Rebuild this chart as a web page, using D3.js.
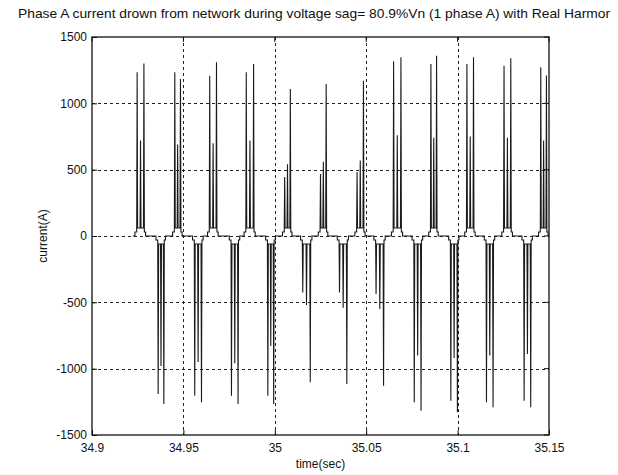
<!DOCTYPE html>
<html>
<head>
<meta charset="utf-8">
<script src="https://cdn.jsdelivr.net/npm/d3@7"></script>
<style>
  body { margin: 0; background: #fff; }
  text { font-family: "Liberation Sans", Arial, Helvetica, sans-serif; fill: #111; }
</style>
</head>
<body>
<svg id="chart" width="618" height="475"></svg>
<script>
// ---- axis data ----
const xTicks = [34.9, 34.95, 35, 35.05, 35.1, 35.15];
const xTickLabels = ["34.9", "34.95", "35", "35.05", "35.1", "35.15"];
const yTicks = [-1500, -1000, -500, 0, 500, 1000, 1500];
const yTickLabels = ["-1500", "-1000", "-500", "0", "500", "1000", "1500"];

// ---- phase A current: one double-spike pulse per half cycle ----
// positive half cycles: time of each spike (s), spike peaks and the smaller hump between them (A)
const posSpike1Time = [34.9247, 34.9453, 34.9644, 34.9844, 35.0054, 35.0250, 35.0450, 35.0650, 35.0854, 35.1051, 35.1254, 35.1455];
const posSpike2Time = [34.9284, 34.9484, 34.9681, 34.9884, 35.0085, 35.0281, 35.0485, 35.0690, 35.0885, 35.1087, 35.1291, 35.1486];
const posPeak1 = [1234, 1234, 1208, 1234, 445, 467, 482, 1317, 1297, 1297, 1284, 1272];
const posPeak2 = [1300, 1183, 1309, 1297, 1108, 1146, 1171, 1347, 1359, 1347, 1340, 1209];
const posMidHump = [720, 690, 700, 720, 540, 560, 570, 760, 740, 750, 740, 720];

// negative half cycles
const negSpike1Time = [34.9362, 34.9562, 34.9763, 34.9962, 35.0153, 35.0354, 35.0554, 35.0763, 35.0963, 35.1158, 35.1364];
const negSpike2Time = [34.9393, 34.9599, 34.9799, 34.9994, 35.0194, 35.0394, 35.0595, 35.0800, 35.0999, 35.1194, 35.1400];
const negPeak1 = [-1191, -1204, -1204, -1204, -425, -425, -437, -1254, -1241, -1254, -1241];
const negPeak2 = [-1266, -1254, -1266, -1266, -1103, -1116, -1128, -1317, -1329, -1291, -1291];
const negMidHump = [-980, -950, -960, -830, -520, -540, -550, -900, -920, -900, -890];

const pedestal = 30;          // small step on which each pulse sits (A)
const valleyFloor = 60;       // level the current drops to between spikes (A)
const signalStart = 34.9224;  // first recorded sample (s)
const signalEnd = 35.15;

// ---- layout ----
const W = 618, H = 475;
const margin = { left: 92, right: 69, top: 37, bottom: 40 };
const plotW = W - margin.left - margin.right;
const plotH = H - margin.top - margin.bottom;

const svg = d3.select("#chart");

const x = d3.scaleLinear().domain([34.9, 35.15]).range([margin.left, margin.left + plotW]);
const y = d3.scaleLinear().domain([-1500, 1500]).range([margin.top + plotH, margin.top]);

// ---- build the current trace from the pulse tables ----
function pulseVertices(t1, t2, p1, p2, hump, sign) {
  const ped = sign * pedestal, low = sign * valleyFloor, tm = (t1 + t2) / 2;
  const e = 0.00025; // edge duration of each spike (s)
  return [
    [t1 - 0.0012, 0], [t1 - 0.0012, ped], [t1 - e, ped],
    [t1, p1], [t1 + e, low],
    [tm - e, low], [tm, hump], [tm + e, low],
    [t2 - e, low], [t2, p2], [t2 + e, ped],
    [t2 + 0.0009, ped], [t2 + 0.0009, 0]
  ];
}
let pulses = [];
posSpike1Time.forEach((t, i) => pulses.push({ t, v: pulseVertices(t, posSpike2Time[i], posPeak1[i], posPeak2[i], posMidHump[i], 1) }));
negSpike1Time.forEach((t, i) => pulses.push({ t, v: pulseVertices(t, negSpike2Time[i], negPeak1[i], negPeak2[i], negMidHump[i], -1) }));
pulses.sort((a, b) => a.t - b.t);
const trace = [[signalStart, 0]];
pulses.forEach(p => trace.push(...p.v));
trace.push([signalEnd, 0]);

// ---- grid ----
const grid = svg.append("g").attr("stroke", "#222").attr("stroke-width", 1).attr("stroke-dasharray", "3,3");
xTicks.slice(1, -1).forEach(v => grid.append("line")
  .attr("x1", Math.round(x(v)) + 0.5).attr("x2", Math.round(x(v)) + 0.5)
  .attr("y1", margin.top).attr("y2", margin.top + plotH));
yTicks.slice(1, -1).forEach(v => grid.append("line")
  .attr("y1", Math.round(y(v)) + 0.5).attr("y2", Math.round(y(v)) + 0.5)
  .attr("x1", margin.left).attr("x2", margin.left + plotW));

// ---- current trace ----
svg.append("clipPath").attr("id", "plotClip").append("rect")
  .attr("x", margin.left).attr("y", margin.top).attr("width", plotW).attr("height", plotH);
const line = d3.line().x(d => x(d[0])).y(d => y(d[1]));
svg.append("path")
  .datum(trace)
  .attr("clip-path", "url(#plotClip)")
  .attr("fill", "none")
  .attr("stroke", "#1a1a1a")
  .attr("stroke-width", 1.1)
  .attr("stroke-linejoin", "miter")
  .attr("d", line);

// ---- axes (inner ticks) ----
const xAxis = d3.axisBottom(x).tickValues(xTicks).tickFormat((d, i) => xTickLabels[i])
  .tickSizeInner(-5).tickSizeOuter(0).tickPadding(6);
const yAxis = d3.axisLeft(y).tickValues(yTicks).tickFormat((d, i) => yTickLabels[i])
  .tickSizeInner(-5).tickSizeOuter(0).tickPadding(5);

const gx = svg.append("g").attr("transform", `translate(0,${margin.top + plotH})`).call(xAxis);
const gy = svg.append("g").attr("transform", `translate(${margin.left},0)`).call(yAxis);
[gx, gy].forEach(g => {
  g.select(".domain").remove();
  g.selectAll("line").attr("stroke", "#111");
  g.selectAll("text").style("font-size", "12px").attr("fill", "#111");
});
gx.selectAll("text").attr("dy", "0.9em");

// top and right ticks
svg.append("g").selectAll("line").data(xTicks).join("line")
  .attr("x1", d => x(d)).attr("x2", d => x(d))
  .attr("y1", margin.top).attr("y2", margin.top + 5).attr("stroke", "#111");
svg.append("g").selectAll("line").data(yTicks).join("line")
  .attr("y1", d => y(d)).attr("y2", d => y(d))
  .attr("x1", margin.left + plotW).attr("x2", margin.left + plotW - 5).attr("stroke", "#111");

// frame
svg.append("rect")
  .attr("x", margin.left).attr("y", margin.top)
  .attr("width", plotW).attr("height", plotH)
  .attr("fill", "none").attr("stroke", "#111").attr("stroke-width", 1.3);

// ---- labels ----
svg.append("text")
  .attr("x", 314).attr("y", 18)
  .attr("text-anchor", "middle")
  .attr("textLength", 592).attr("lengthAdjust", "spacingAndGlyphs")
  .style("font-size", "13px")
  .text("Phase A current drown from network during voltage sag= 80.9%Vn (1 phase A) with Real Harmor");

svg.append("text")
  .attr("x", margin.left + plotW / 2).attr("y", 468)
  .attr("text-anchor", "middle")
  .style("font-size", "12px")
  .text("time(sec)");

svg.append("text")
  .attr("transform", `translate(47,${margin.top + plotH / 2}) rotate(-90)`)
  .attr("text-anchor", "middle")
  .style("font-size", "12px")
  .text("current(A)");
</script>
</body>
</html>
